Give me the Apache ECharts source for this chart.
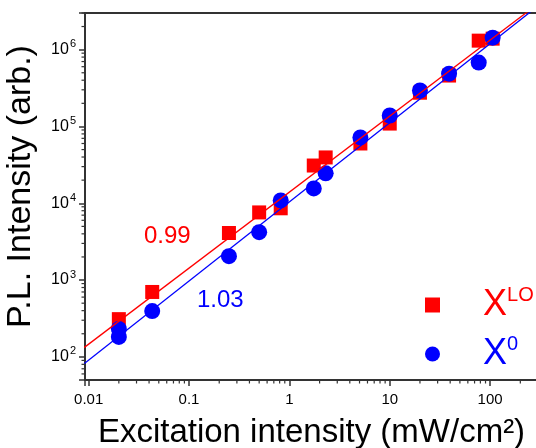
<!DOCTYPE html>
<html>
<head>
<meta charset="utf-8">
<script src="https://cdn.jsdelivr.net/npm/echarts@6/dist/echarts.min.js"></script>
<style>html,body{margin:0;padding:0;background:#fff;}#c{width:536px;height:448px;}</style>
</head>
<body>
<div id="c"></div>
<script>
// ---- data ----
const X_LO_X = [0.02, 0.043, 0.25, 0.5, 0.82, 1.75, 2.3, 5.1, 10, 20, 39, 77, 106];
const X_LO_Y = [310, 700, 4100, 7600, 8600, 31000, 39500, 60000, 109000, 275000, 460000, 1310000, 1390000];
const X0_X = [0.02, 0.02, 0.043, 0.25, 0.5, 0.82, 1.75, 2.3, 5.1, 10, 20, 39, 77, 106];
const X0_Y = [231, 182, 395, 2050, 4200, 10900, 15600, 24500, 72000, 139000, 294000, 487000, 678000, 1430000];
// fitted power-law lines (end points)
const FIT_LO_X = [0.009, 300];
const FIT_LO_Y = [132, 3950000];
const FIT_0_X = [0.009, 300];
const FIT_0_Y = [81.5, 3710000];
const SLOPE_LABELS = ['0.99', '1.03'];
const SERIES_NAMES = ['XLO', 'X0'];
// axis ranges and minor tick values
const X_MIN = 0.0092, X_MAX = 300;
const Y_MIN = 50, Y_MAX = 3000000;
const X_MINOR = [0.02,0.03,0.04,0.05,0.06,0.07,0.08,0.09,
                 0.2,0.3,0.4,0.5,0.6,0.7,0.8,0.9,
                 2,3,4,5,6,7,8,9,
                 20,30,40,50,60,70,80,90,
                 200,300];
const Y_MINOR = [60,70,80,90,
                 200,300,400,500,600,700,800,900,
                 2000,3000,4000,5000,6000,7000,8000,9000,
                 20000,30000,40000,50000,60000,70000,80000,90000,
                 200000,300000,400000,500000,600000,700000,800000,900000,
                 2000000,3000000];
const X_TITLE = 'Excitation intensity (mW/cm²)';
const Y_TITLE = 'P.L. Intensity (arb.)';

const FONT = "'Liberation Sans', Arial, sans-serif";
const AX = '#333';
const zip = (a, b) => a.map((v, i) => [v, b[i]]);
const isPow10 = v => Math.abs(Math.log10(v) - Math.round(Math.log10(v))) < 1e-6;

const chart = echarts.init(document.getElementById('c'), null, {renderer: 'canvas'});
chart.setOption({
  backgroundColor: '#fff',
  animation: false,
  textStyle: {fontFamily: FONT},
  grid: {left: 85, top: 13, right: -2, bottom: 68, containLabel: false, outerBoundsMode: 'none',
         show: true, borderColor: AX, borderWidth: 2, backgroundColor: 'transparent'},
  xAxis: {
    type: 'log', logBase: 10, min: X_MIN, max: X_MAX,
    axisLine: {show: true, lineStyle: {color: AX, width: 2}},
    axisTick: {show: true, length: 6, lineStyle: {color: AX, width: 1.5}},
    minorTick: {show: false},
    splitLine: {show: false},
    axisLabel: {
      color: '#000', fontSize: 15, fontFamily: FONT, margin: 12,
      formatter: v => isPow10(v) ? String(+(+v).toPrecision(3)) : ''
    },
    name: X_TITLE, nameLocation: 'middle', nameGap: 36,
    nameTextStyle: {color: '#000', fontSize: 33, fontFamily: FONT}
  },
  yAxis: {
    type: 'log', logBase: 10, min: Y_MIN, max: Y_MAX,
    axisLine: {show: true, lineStyle: {color: AX, width: 2}},
    axisTick: {show: true, length: 6, lineStyle: {color: AX, width: 1.5}},
    minorTick: {show: false},
    splitLine: {show: false},
    axisLabel: {
      color: '#000', fontFamily: FONT, fontSize: 16, lineHeight: 22, margin: 9,
      formatter: v => isPow10(v) ? '10{s|' + Math.round(Math.log10(v)) + '}' : '',
      rich: {
        s: {fontSize: 11, lineHeight: 8, verticalAlign: 'top', color: '#000', fontFamily: FONT, padding: [0, 0, 0, 1]}
      }
    },
    name: Y_TITLE, nameLocation: 'middle', nameGap: 47,
    nameTextStyle: {color: '#000', fontSize: 34, fontFamily: FONT, padding: [0, 0, 0, 20]}
  },
  legend: {
    orient: 'vertical', left: 425, top: 285, padding: 0,
    itemWidth: 15, itemHeight: 15, itemGap: 11,
    selectedMode: false,
    data: [{name: SERIES_NAMES[0], icon: 'rect'}, {name: SERIES_NAMES[1], icon: 'circle'}],
    formatter: n => n === SERIES_NAMES[0] ? '{g|}{xr|X}{sr|LO}' : '{g|}{xb|X}{sb|0}',
    textStyle: {
      fontFamily: FONT,
      rich: {
        g: {width: 38},
        xr: {fontSize: 36, lineHeight: 40, color: '#ff0000', fontFamily: FONT},
        sr: {fontSize: 20, lineHeight: 10, verticalAlign: 'top', color: '#ff0000', fontFamily: FONT},
        xb: {fontSize: 36, lineHeight: 40, color: '#0000ff', fontFamily: FONT},
        sb: {fontSize: 20, lineHeight: 10, verticalAlign: 'top', color: '#0000ff', fontFamily: FONT}
      }
    }
  },
  graphic: [
    {type: 'text', left: 144, top: 224, z: 10, style: {text: SLOPE_LABELS[0], fontSize: 24, fill: '#ff0000', fontFamily: FONT}},
    {type: 'text', left: 197, top: 288, z: 10, style: {text: SLOPE_LABELS[1], fontSize: 24, fill: '#0000ff', fontFamily: FONT}}
  ],
  series: [
    {name: SERIES_NAMES[0], type: 'scatter', symbol: 'rect', symbolSize: 14, z: 2,
     itemStyle: {color: '#ff0000', opacity: 1}, data: zip(X_LO_X, X_LO_Y)},
    {name: SERIES_NAMES[1], type: 'scatter', symbol: 'circle', symbolSize: 16, z: 3,
     itemStyle: {color: '#0000ff', opacity: 1}, data: zip(X0_X, X0_Y)},
    {name: 'fit0', type: 'line', showSymbol: false, symbol: 'none', z: 4, silent: true,
     lineStyle: {color: '#0000ff', width: 1.3}, data: zip(FIT_0_X, FIT_0_Y)},
    {name: 'fitLO', type: 'line', showSymbol: false, symbol: 'none', z: 5, silent: true,
     lineStyle: {color: '#ff0000', width: 1.3}, data: zip(FIT_LO_X, FIT_LO_Y)},
    {name: 'xminor', type: 'custom', silent: true, clip: false, z: 6,
     data: X_MINOR.map(v => [v, Y_MIN]),
     renderItem: (p, api) => {
       const c = api.coord([api.value(0), api.value(1)]);
       return {type: 'line', shape: {x1: c[0], y1: c[1], x2: c[0], y2: c[1] + 3.5},
               style: {stroke: AX, lineWidth: 1.2}};
     }},
    {name: 'yminor', type: 'custom', silent: true, clip: false, z: 6,
     data: Y_MINOR.map(v => [X_MIN, v]),
     renderItem: (p, api) => {
       const c = api.coord([api.value(0), api.value(1)]);
       return {type: 'line', shape: {x1: c[0], y1: c[1], x2: c[0] - 3.5, y2: c[1]},
               style: {stroke: AX, lineWidth: 1.2}};
     }}
  ]
});
</script>
</body>
</html>
